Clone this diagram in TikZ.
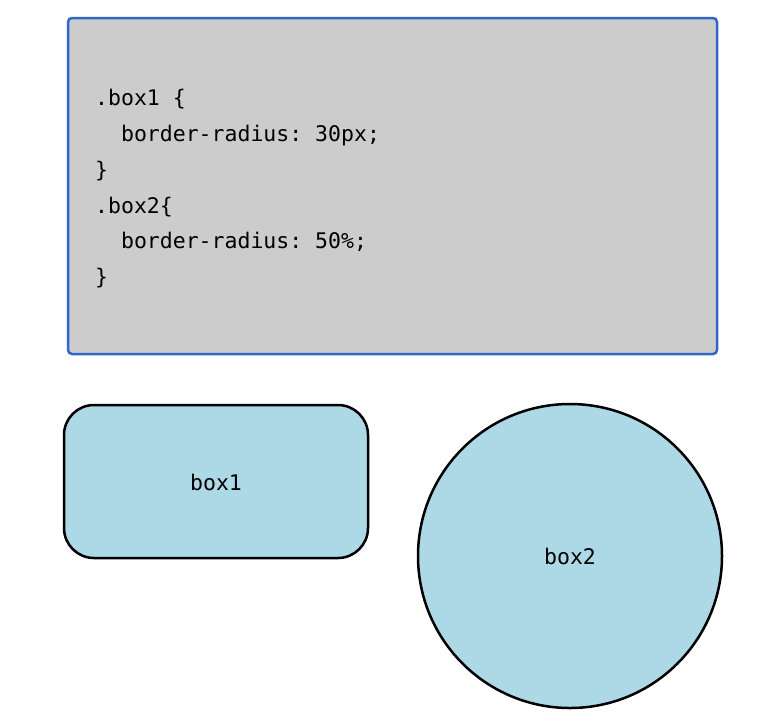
\documentclass[tikz,border=0pt]{standalone}
\usepackage{fontspec}
\setmonofont{DejaVu Sans Mono}
\definecolor{codebg}{HTML}{CCCCCC}
\definecolor{codeborder}{HTML}{3366CC}
\definecolor{boxfill}{HTML}{ADD8E6}
\begin{document}
\begin{tikzpicture}[x=1pt,y=-1pt,
  codeline/.style={anchor=base west,inner sep=0pt,font=\ttfamily\fontsize{21.5}{24}\selectfont},
  codebox/.style={draw=codeborder,fill=codebg,line width=2.5pt,rounded corners=4pt},
  shapebox/.style={draw=black,fill=boxfill,line width=2.5pt},
  lbl/.style={font=\ttfamily\fontsize{21.5}{24}\selectfont}]
\useasboundingbox (0,0) rectangle (778,721);
\draw[codebox] (68,18) rectangle (717,354);
\node[codeline] (l1) at (95,105) {.box1 \{};
\node[codeline] (l2) at (95,141) {\ \ border-radius: 30px;};
\node[codeline] (l3) at (95,177) {\}};
\node[codeline] (l4) at (95,213) {.box2\{};
\node[codeline] (l5) at (95,248) {\ \ border-radius: 50\%;};
\node[codeline] (l6) at (95,284) {\}};
\draw[shapebox,rounded corners=30pt] (64,405) rectangle (368,558);
\node[lbl] (b1) at (216,482) {box1};
\draw[shapebox] (570,556) circle[radius=152];
\node[lbl] (b2) at (570,556) {box2};
\end{tikzpicture}
\end{document}
